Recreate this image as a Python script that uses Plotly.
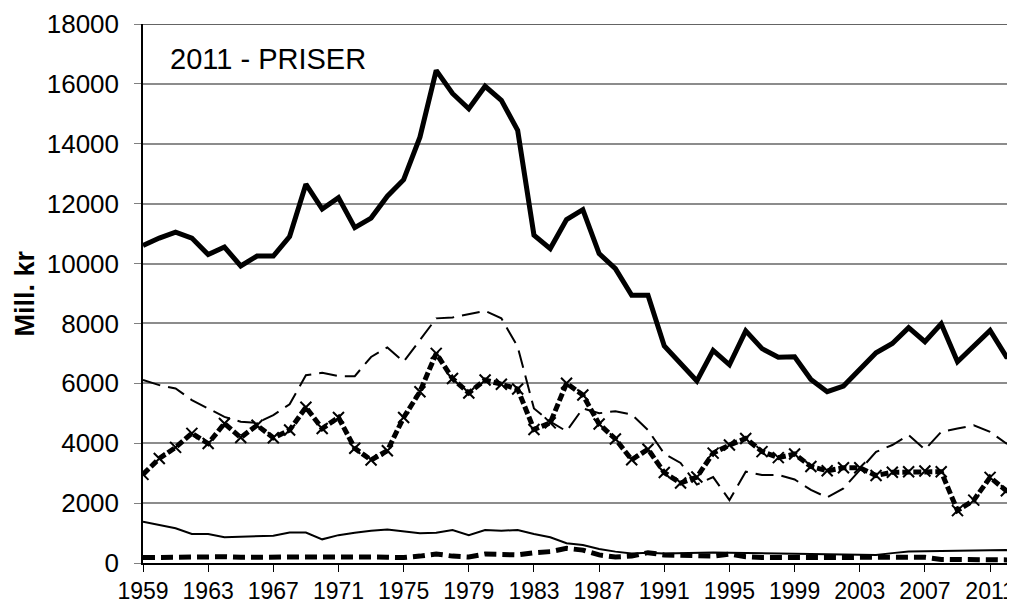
import plotly.graph_objs as go

years = list(range(1959, 2014))

# thick solid
total = [10600, 10850, 11050, 10850, 10300, 10550, 9920, 10250, 10250, 10900,
         12650, 11820, 12200, 11200, 11520, 12250, 12800, 14220, 16450, 15680,
         15170, 15920, 15450, 14450, 10950, 10500, 11470, 11800, 10330, 9830,
         8940, 8940, 7250, 6680, 6080, 7100, 6620, 7750, 7160, 6870,
         6890, 6130, 5720, 5910, 6440, 7020, 7330, 7860, 7390, 7990,
         6720, 7240, 7770, 6890, 6890]

# thin dashed
dashed = [6110, 5940, 5830, 5440, 5160, 4880, 4720, 4680, 4940, 5300,
          6270, 6350, 6240, 6240, 6880, 7200, 6720, 7440, 8170, 8200,
          8310, 8420, 8170, 7220, 5160, 4720, 4400, 5160, 5000, 5070,
          4960, 4440, 3650, 3340, 2620, 2870, 2100, 3050, 2940, 2940,
          2790, 2440, 2190, 2490, 3100, 3710, 3940, 4270, 3790, 4380,
          4490, 4600, 4380, 3990, 4100]

# thick with x markers
crossed = [2960, 3490, 3860, 4330, 3990, 4660, 4190, 4600, 4180, 4440,
           5200, 4490, 4860, 3830, 3440, 3750, 4860, 5720, 7000, 6160,
           5680, 6110, 5970, 5810, 4460, 4680, 6000, 5610, 4640, 4140,
           3450, 3800, 3020, 2670, 2870, 3670, 3940, 4160, 3720, 3520,
           3640, 3220, 3080, 3180, 3180, 2920, 3030, 3050, 3070, 3050,
           1750, 2100, 2860, 2410, 2400]

# thin solid
thin = [1380, 1270, 1160, 970, 970, 860, 880, 880, 910, 1020,
        1020, 790, 930, 1010, 1080, 1120, 1045, 990, 1010, 1100,
        930, 1100, 1080, 1100, 970, 860, 660, 600, 470, 380,
        320, 345, 320, 330, 350, 350, 340, 330, 320, 320,
        310, 300, 280, 270, 260, 270, 330, 380, 390, 400,
        410, 430, 440, 430, 280]

# thick dashed
bottom = [180, 190, 200, 230, 200, 210, 190, 180, 190, 200,
          200, 210, 220, 210, 200, 190, 180, 230, 300, 230,
          200, 300, 300, 270, 345, 380, 490, 430, 270, 200,
          230, 345, 270, 270, 260, 230, 300, 210, 180, 160,
          180, 180, 160, 180, 190, 190, 210, 210, 190, 120,
          120, 100, 100, 100, 100]

font = 'Liberation Sans, Arial, sans-serif'

data = [
    go.Scatter(x=years, y=dashed, mode='lines',
               line=dict(color='black', width=2, dash='18px,8px')),
    go.Scatter(x=years, y=thin, mode='lines',
               line=dict(color='black', width=2)),
    go.Scatter(x=years, y=bottom, mode='lines',
               line=dict(color='black', width=5, dash='12px,6px')),
    go.Scatter(x=years, y=crossed, mode='lines+markers',
               line=dict(color='black', width=5, dash='8px,3px'),
               marker=dict(symbol='x-thin-open', size=11,
                           line=dict(color='black', width=2))),
    go.Scatter(x=years, y=total, mode='lines',
               line=dict(color='black', width=5)),
]

# page body has an 8px margin, so the figure is 8px smaller and shifted
layout = go.Layout(
    width=1007, height=596,
    margin=dict(l=135, r=0, t=16, b=41),
    paper_bgcolor='white', plot_bgcolor='white',
    showlegend=False,
    font=dict(family=font, color='black'),
    xaxis=dict(
        range=[1959, 2012.53],
        tickvals=list(range(1959, 2012, 4)),
        ticks='outside', ticklen=7, tickcolor='black', tickwidth=1,
        ticklabeloverflow='allow',
        showline=True, linecolor='black', linewidth=1.5,
        showgrid=False, zeroline=False, automargin=False,
        tickfont=dict(size=23),
    ),
    yaxis=dict(
        range=[0, 18000],
        tickvals=list(range(0, 18001, 2000)),
        tickformat='d',
        ticks='outside', ticklen=7, tickcolor='#808080', tickwidth=1,
        ticklabelstandoff=10,
        showline=True, linecolor='black', linewidth=1.5,
        showgrid=True, gridcolor='#8c8c8c', gridwidth=1.5,
        zeroline=False, automargin=False,
        tickfont=dict(size=26),
    ),
    shapes=[dict(type='line', xref='paper', yref='y', x0=0, x1=1,
                 y0=18000, y1=18000, line=dict(color='#303030', width=1.5))],
    annotations=[
        dict(text='2011 - PRISER', xref='paper', yref='paper',
             x=0.029, y=0.935, xanchor='left', yanchor='middle',
             showarrow=False, font=dict(size=29)),
        dict(text='<b>Mill. kr</b>', xref='paper', yref='paper',
             x=-135 / 872, y=0.5, xanchor='left', yanchor='middle',
             textangle=-90, showarrow=False, borderpad=0,
             font=dict(size=27)),
    ],
)

fig = go.Figure(data=data, layout=layout)
fig.write_html("out.html")
